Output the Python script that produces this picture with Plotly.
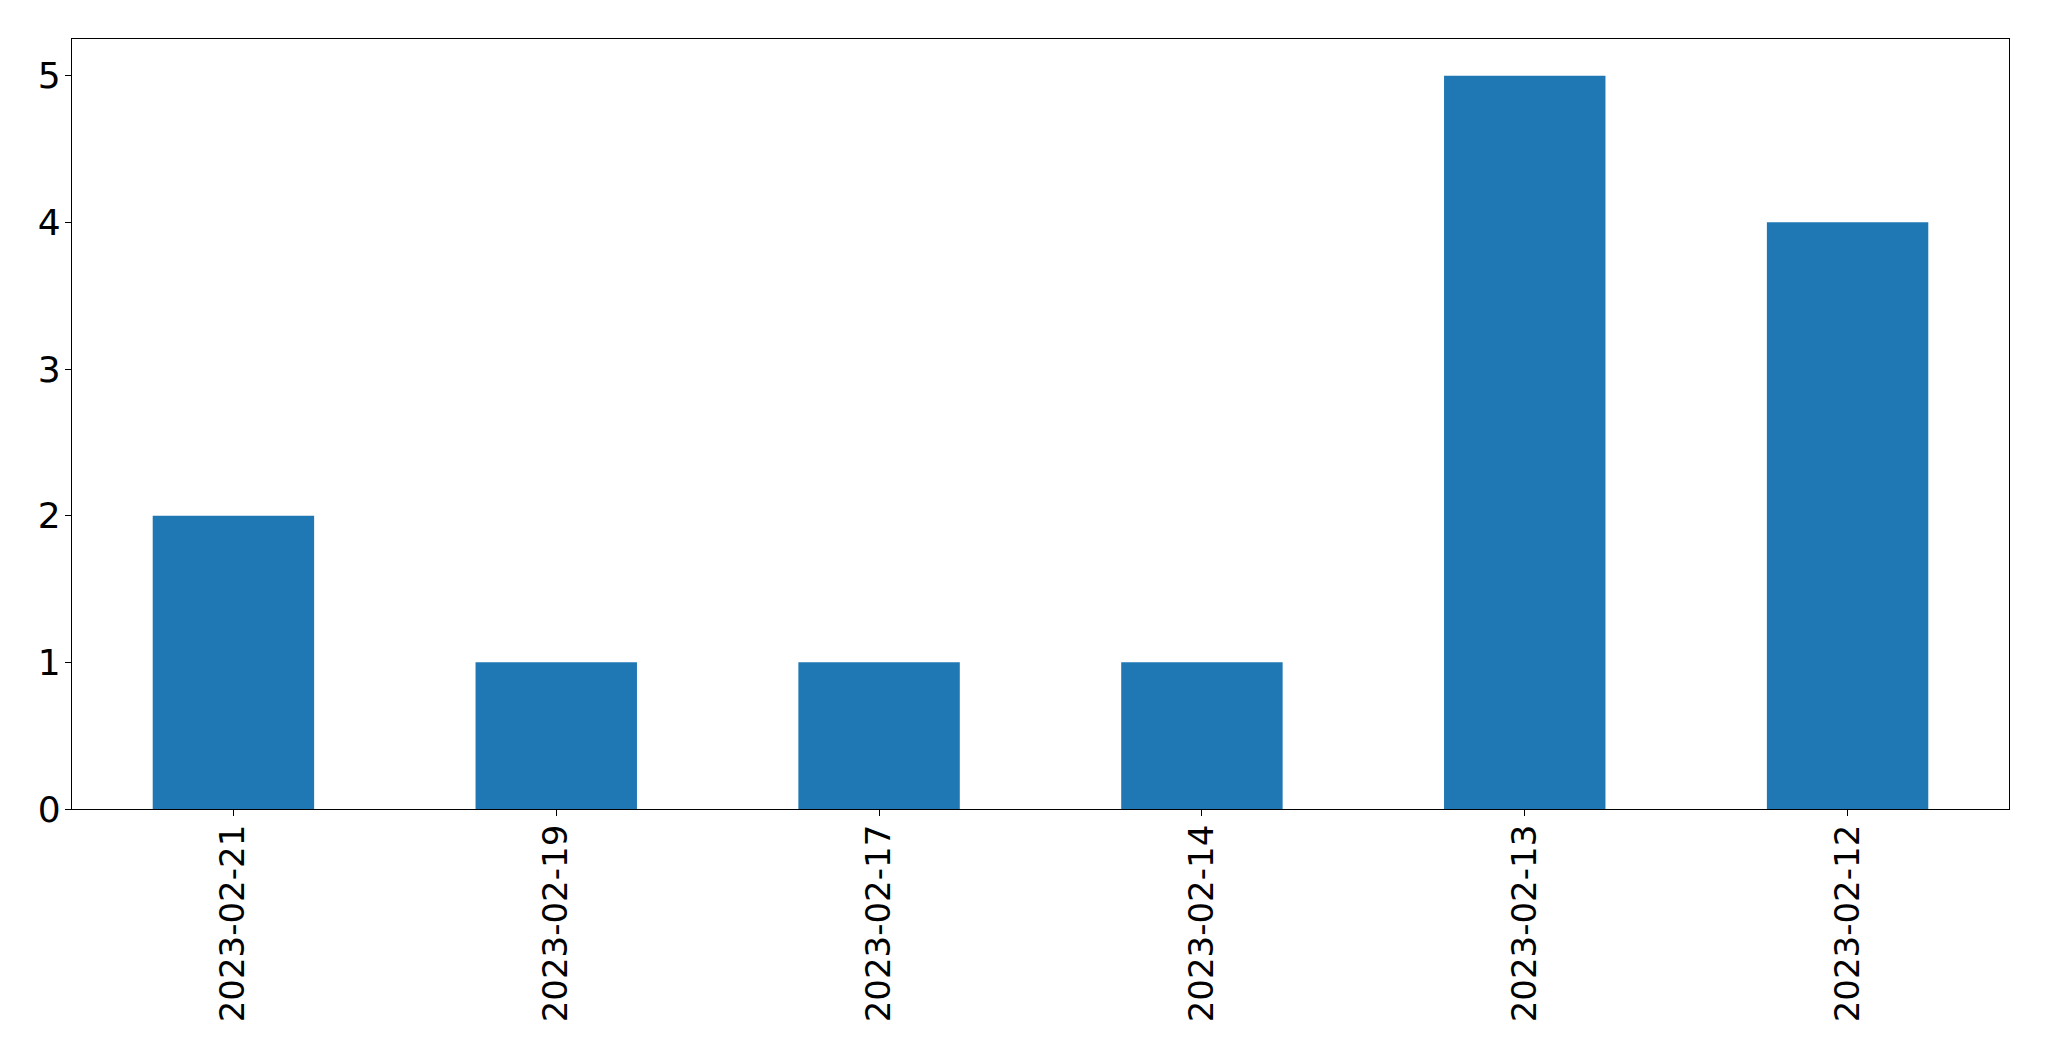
import plotly.graph_objects as go

dates = ["2023-02-21", "2023-02-19", "2023-02-17", "2023-02-14", "2023-02-13", "2023-02-12"]
counts = [2, 1, 1, 1, 5, 4]

fig = go.Figure(go.Bar(x=dates, y=counts, marker=dict(color="#1f77b4", line=dict(width=0)), width=0.5))

fig.update_layout(
    width=2033, height=1045,
    margin=dict(l=64, r=32, t=31, b=244),
    paper_bgcolor="white", plot_bgcolor="white",
    font=dict(family="DejaVu Sans", size=35, color="black"),
    showlegend=False,
)
fig.update_xaxes(
    type="category", range=[-0.5, 5.5],
    showline=True, mirror=True, linecolor="black", linewidth=1.3,
    ticks="outside", ticklen=6, tickcolor="black", tickwidth=1.3,
    tickangle=-90, showgrid=False, zeroline=False,
    tickfont=dict(size=34), ticklabelstandoff=-5,
)
fig.update_yaxes(
    range=[0, 5.25], dtick=1, tick0=0,
    showline=True, mirror=True, linecolor="black", linewidth=1.3,
    ticks="outside", ticklen=6, tickcolor="black", tickwidth=1.3,
    showgrid=False, zeroline=False,
    tickfont=dict(size=36), ticklabelstandoff=-3,
)

fig.write_html("out.html")
